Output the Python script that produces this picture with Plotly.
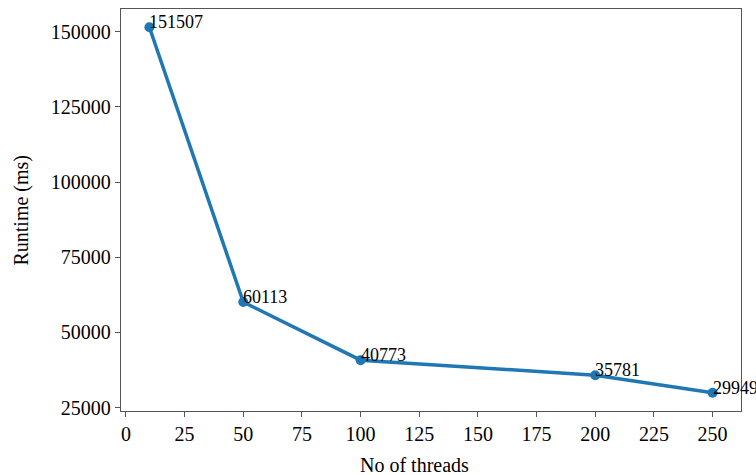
import plotly.graph_objects as go

threads = [10, 50, 100, 200, 250]
runtime = [151507, 60113, 40773, 35781, 29949]
x_ticks = [0, 25, 50, 75, 100, 125, 150, 175, 200, 225, 250]
y_ticks = [25000, 50000, 75000, 100000, 125000, 150000]

FONT = "Liberation Serif, Times New Roman, serif"

fig = go.Figure()
fig.add_trace(go.Scatter(
    x=threads, y=runtime, mode="lines+markers",
    line=dict(color="#1f77b4", width=3.5),
    marker=dict(color="#1f77b4", size=10),
    showlegend=False,
))

for xv, yv in zip(threads, runtime):
    fig.add_annotation(x=xv, y=yv, text=str(yv), showarrow=False,
                       xanchor="left", yanchor="bottom", xshift=-2, yshift=-7,
                       font=dict(family=FONT, size=18, color="black"))

fig.add_annotation(xref="paper", yref="paper", x=0.4726, y=-0.103,
                   text="No of threads", showarrow=False,
                   xanchor="center", yanchor="top",
                   font=dict(family=FONT, size=20, color="black"))
fig.add_annotation(xref="paper", yref="paper", x=-0.162, y=0.5,
                   text="Runtime (ms)", showarrow=False, textangle=-90,
                   xanchor="center", yanchor="middle",
                   font=dict(family=FONT, size=20, color="black"))

axis_common = dict(
    showline=True, linecolor="#555555", linewidth=1.3, mirror=True,
    ticks="outside", ticklen=5, tickwidth=1, tickcolor="#555555",
    showgrid=False, zeroline=False,
    tickfont=dict(family=FONT, size=20, color="black"),
)

fig.update_layout(
    width=756, height=475,
    margin=dict(l=121, r=15, t=9, b=64),
    paper_bgcolor="white", plot_bgcolor="white",
    xaxis=dict(range=[-2.1, 262.1], tickvals=x_ticks, **axis_common),
    yaxis=dict(range=[23871, 157585], tickvals=y_ticks,
               ticktext=[str(v) for v in y_ticks], **axis_common),
)

fig.write_html("out.html", config={"displayModeBar": False},
               post_script="document.body.style.margin='0';document.body.style.overflow='hidden';")
